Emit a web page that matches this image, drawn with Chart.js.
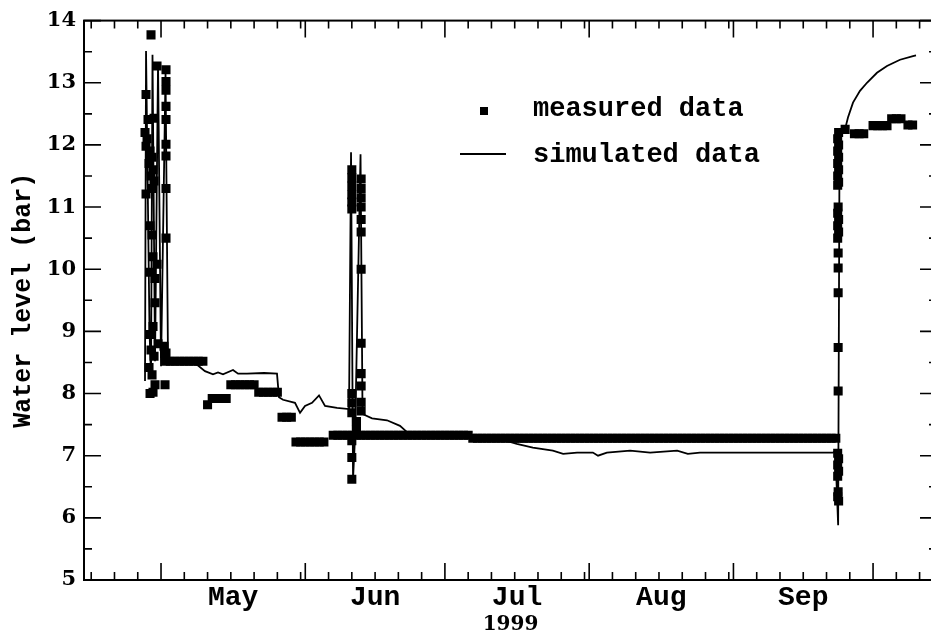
<!DOCTYPE html>
<html>
<head>
<meta charset="utf-8">
<title>Water level 1999</title>
<script src="https://cdn.jsdelivr.net/npm/chart.js@4.4.1/dist/chart.umd.min.js"></script>
<style>
  html, body { margin: 0; padding: 0; background: #fff; overflow: hidden; }
  #wrap { position: absolute; left: 0; top: 0; width: 945px; height: 640px; }
</style>
</head>
<body>
<div id="wrap"><canvas id="grafico"></canvas></div>
<script>
// x = day of year 1999 (1 = 1 Jan), y = water level in bar
const monthStart = [121, 152, 182, 213, 244, 274];
const monthMid = [136.5, 167, 197.5, 228.5, 259];
const monthLabels = ['May', 'Jun', 'Jul', 'Aug', 'Sep'];
const minorDays = [106, 111, 116, 126, 131, 136, 141, 146, 151, 157, 162, 167, 172, 177,
  187, 192, 197, 202, 207, 212, 218, 223, 228, 233, 238, 243, 249, 254, 259, 264, 269, 279, 284];
const levelTicks = [5, 6, 7, 8, 9, 10, 11, 12, 13, 14];
const levelMinor = [5.5, 6.5, 7.5, 8.5, 9.5, 10.5, 11.5, 12.5, 13.5];

const measDay = [
  // end of april test
  118.85, 120.14, 117.78, 118.21, 119.5, 117.56, 118.0, 117.78, 118.64, 119.07, 118.42,
  119.28, 118.85, 119.5, 117.78, 119.07, 118.64, 119.07, 119.28, 120.14, 118.64, 119.71,
  119.71, 119.28, 118.64, 120.36, 118.85, 119.5, 118.42, 119.07, 119.71, 118.64, 119.28,
  122.07, 122.07, 122.07, 122.07, 122.07, 122.07, 122.07, 122.07, 122.07, 121.64, 122.07, 121.86,
  // may - june readings
  122, 123, 124, 125, 126, 127, 128, 129, 130, 131, 132, 133, 134, 135,
  136, 137, 138, 139, 140, 141, 142, 143, 144, 145, 146, 147, 148, 149,
  150, 151, 152, 153, 154, 155, 156,
  158, 159, 160, 161, 162, 163, 164, 165, 166, 167, 168, 169, 170, 171, 172,
  173, 174, 175, 176, 177, 178, 179, 180, 181, 182, 183, 184, 185, 186, 187,
  // july - september readings
  188, 189, 190, 191, 192, 193, 194, 195, 196, 197, 198, 199, 200, 201, 202, 203,
  204, 205, 206, 207, 208, 209, 210, 211, 212, 213, 214, 215, 216, 217, 218, 219,
  220, 221, 222, 223, 224, 225, 226, 227, 228, 229, 230, 231, 232, 233, 234, 235,
  236, 237, 238, 239, 240, 241, 242, 243, 244, 245, 246, 247, 248, 249, 250, 251,
  252, 253, 254, 255, 256, 257, 258, 259, 260, 261, 262, 263, 264, 265, 266,
  // june test
  162, 162, 162, 162, 162, 162, 162, 162, 162, 162, 162, 162,
  164, 164, 164, 164, 164, 164, 164, 164, 164, 164, 164, 164,
  163, 163,
  // september test
  266.6, 266.4, 266.6, 266.4, 266.6, 266.4, 266.6, 266.4, 266.6, 266.4, 266.5, 266.4,
  266.6, 266.4, 266.6, 266.4, 266.5, 266.5, 266.5, 266.5, 266.5, 266.4, 266.6, 266.4,
  266.6, 266.4, 266.5, 266.4, 266.6,
  268, 270, 271, 272, 274, 275, 276, 277, 278, 279, 280, 281.5, 282.5
];
const measLevel = [
  13.77, 13.27, 12.81, 12.41, 12.43, 12.2, 12.1, 11.98, 11.9, 11.8, 11.7,
  11.6, 11.5, 11.42, 11.21, 11.3, 10.7, 10.55, 10.2, 10.08, 9.95, 9.85,
  9.46, 9.08, 8.95, 8.8, 8.7, 8.6, 8.42, 8.3, 8.14, 8.0, 8.02,
  13.21, 13.02, 12.88, 12.62, 12.41, 12.01, 11.82, 11.3, 10.5, 8.76, 8.65, 8.14,
  8.52, 8.52, 8.52, 8.52, 8.52, 8.52, 8.52, 8.52, 8.52, 7.82, 7.92, 7.92, 7.92, 7.92,
  8.14, 8.14, 8.14, 8.14, 8.14, 8.14, 8.02, 8.02, 8.02, 8.02, 8.02, 7.62, 7.62, 7.62,
  7.22, 7.22, 7.22, 7.22, 7.22, 7.22, 7.22,
  7.33, 7.33, 7.33, 7.33, 7.33, 7.33, 7.33, 7.33, 7.33, 7.33, 7.33, 7.33, 7.33, 7.33, 7.33,
  7.33, 7.33, 7.33, 7.33, 7.33, 7.33, 7.33, 7.33, 7.33, 7.33, 7.33, 7.33, 7.33, 7.33, 7.33,
  7.28, 7.28, 7.28, 7.28, 7.28, 7.28, 7.28, 7.28, 7.28, 7.28, 7.28, 7.28, 7.28, 7.28, 7.28, 7.28,
  7.28, 7.28, 7.28, 7.28, 7.28, 7.28, 7.28, 7.28, 7.28, 7.28, 7.28, 7.28, 7.28, 7.28, 7.28, 7.28,
  7.28, 7.28, 7.28, 7.28, 7.28, 7.28, 7.28, 7.28, 7.28, 7.28, 7.28, 7.28, 7.28, 7.28, 7.28, 7.28,
  7.28, 7.28, 7.28, 7.28, 7.28, 7.28, 7.28, 7.28, 7.28, 7.28, 7.28, 7.28, 7.28, 7.28, 7.28, 7.28,
  7.28, 7.28, 7.28, 7.28, 7.28, 7.28, 7.28, 7.28, 7.28, 7.28, 7.28, 7.28, 7.28, 7.28, 7.28,
  11.6, 11.47, 11.34, 11.2, 11.08, 10.97, 8.0, 7.85, 7.69, 7.24, 6.97, 6.62,
  11.45, 11.3, 11.15, 11.0, 10.8, 10.6, 10.0, 8.81, 8.32, 8.12, 7.86, 7.72,
  7.55, 7.42,
  12.2, 12.1, 12.0, 11.9, 11.8, 11.7, 11.6, 11.5, 11.4, 11.35, 11.0, 10.9,
  10.8, 10.7, 10.6, 10.5, 10.26, 10.02, 9.62, 8.74, 8.04, 7.04, 6.95, 6.85,
  6.75, 6.67, 6.42, 6.34, 6.27,
  12.25, 12.18, 12.18, 12.18, 12.31, 12.31, 12.31, 12.31, 12.42, 12.42, 12.42, 12.32, 12.32
];

const simDay = [
  117.56, 117.78, 118.53, 118.85, 119.17, 119.71, 120.36, 121.0, 121.97, 122.5,
  124.0, 127.23, 128.95, 130.45, 132.17, 133.25, 134.32, 136.47, 137.55, 139.48,
  143.13, 145.92, 146.35, 147.21, 149.79, 150.87, 151.94, 153.45, 154.95, 156.24,
  158.82, 161.4, 161.83, 162.26, 162.69, 163.87, 164.3, 166.34, 169.56, 172.35,
  173.86, 174.93, 183.0, 193.84, 197.45, 200.9, 205.2, 207.4, 210.4, 213.8,
  214.9, 216.8, 221.8, 226.1, 231.9, 234.2, 236.8, 251.2, 265.4, 265.9,
  266.5, 266.8, 267.3, 267.97, 268.61, 269.69, 271.19, 272.69, 274.84, 276.99,
  279.79, 282.58, 283.23
];
const simLevel = [
  8.2, 13.51, 9.0, 8.28, 13.45, 8.52, 13.32, 8.44, 13.16, 8.57,
  8.55, 8.52, 8.45, 8.36, 8.31, 8.34, 8.31, 8.38, 8.32, 8.32,
  8.33, 8.32, 7.94, 7.9, 7.85, 7.69, 7.8, 7.85, 7.97, 7.8,
  7.77, 7.75, 11.88, 6.62, 7.3, 11.85, 7.67, 7.6, 7.57, 7.48,
  7.38, 7.33, 7.32, 7.27, 7.19, 7.13, 7.08, 7.03, 7.05, 7.05,
  7.0, 7.05, 7.08, 7.05, 7.08, 7.03, 7.05, 7.05, 7.05, 7.07,
  5.88, 12.1, 12.2, 12.25, 12.44, 12.68, 12.87, 13.0, 13.16, 13.27,
  13.37, 13.43, 13.44
];

const measured = measDay.map((d, i) => ({x: d, y: measLevel[i]}));
const simulated = simDay.map((d, i) => ({x: d, y: simLevel[i]}));

// ticks pointing into the plot on all four sides, plus the frame
const insideTicks = {
  id: 'insideTicks',
  afterDatasetsDraw(chart) {
    const {ctx, chartArea: a, scales: {x, y}} = chart;
    ctx.save();
    ctx.strokeStyle = '#000';
    ctx.lineWidth = 1.6;
    ctx.beginPath();
    const tickX = (d, len) => {
      const px = x.getPixelForValue(d);
      ctx.moveTo(px, a.bottom); ctx.lineTo(px, a.bottom - len);
      ctx.moveTo(px, a.top); ctx.lineTo(px, a.top + len);
    };
    const tickY = (v, len) => {
      const py = y.getPixelForValue(v);
      ctx.moveTo(a.left, py); ctx.lineTo(a.left + len, py);
      ctx.moveTo(a.right, py); ctx.lineTo(a.right - len, py);
    };
    monthStart.forEach(d => tickX(d, 17));
    minorDays.forEach(d => tickX(d, 8));
    levelTicks.forEach(v => tickY(v, 17));
    levelMinor.forEach(v => tickY(v, 8));
    ctx.stroke();
    ctx.lineWidth = 2;
    ctx.strokeRect(a.left, a.top, a.right - a.left, a.bottom - a.top);
    ctx.restore();
  }
};

// legend sits inside the plot, upper middle
const legendInside = {
  id: 'legendInside',
  afterDraw(chart) {
    const ctx = chart.ctx;
    const sets = chart.data.datasets;
    ctx.save();
    ctx.fillStyle = '#000';
    ctx.strokeStyle = '#000';
    ctx.fillRect(480, 107, 8, 8);
    ctx.lineWidth = 1.8;
    ctx.beginPath();
    ctx.moveTo(460, 154);
    ctx.lineTo(506, 154);
    ctx.stroke();
    ctx.font = 'bold 27px "Liberation Mono"';
    ctx.textBaseline = 'alphabetic';
    ctx.fillText(sets[0].label, 533, 116);
    ctx.fillText(sets[1].label, 533, 162);
    ctx.restore();
  }
};

new Chart(document.getElementById('grafico'), {
  type: 'scatter',
  data: {
    datasets: [{
      label: 'measured data',
      data: measured,
      pointStyle: 'rect',
      pointRadius: 6.4,
      pointHoverRadius: 6.4,
      backgroundColor: '#000',
      borderColor: '#000',
      borderWidth: 0
    }, {
      label: 'simulated data',
      type: 'line',
      data: simulated,
      borderColor: '#000',
      borderWidth: 1.8,
      pointRadius: 0,
      tension: 0,
      fill: false
    }]
  },
  options: {
    responsive: true,
    maintainAspectRatio: false,
    animation: false,
    layout: { padding: { top: 17, right: 8, left: 0, bottom: 0 } },
    plugins: {
      legend: { display: false },
      tooltip: { enabled: false }
    },
    scales: {
      x: {
        type: 'linear',
        min: 104.45,
        max: 287.74,
        grid: { display: false, drawTicks: false },
        border: { display: false },
        afterBuildTicks: scale => {
          scale.ticks = monthMid.map(v => ({value: v}));
        },
        afterFit: scale => { scale.height = 60; },
        ticks: {
          autoSkip: false,
          maxRotation: 0,
          padding: 1,
          color: '#000',
          font: { family: '"Liberation Mono"', size: 28, weight: 'bold' },
          callback: (value, i) => monthLabels[i]
        },
        title: {
          display: true,
          text: '1999',
          color: '#000',
          font: { family: '"DejaVu Serif"', size: 20, weight: 'bold' },
          padding: { top: 0, bottom: 3 }
        }
      },
      y: {
        min: 5,
        max: 14,
        grid: { display: false, drawTicks: false },
        border: { display: false },
        afterFit: scale => { scale.width = 84; },
        ticks: {
          stepSize: 1,
          padding: 8,
          color: '#000',
          font: { family: '"DejaVu Serif"', size: 21, weight: 'bold' }
        },
        title: {
          display: true,
          text: 'Water level (bar)',
          color: '#000',
          font: { family: '"Liberation Mono"', size: 25, weight: 'bold' },
          padding: { top: 9, bottom: 0 }
        }
      }
    }
  },
  plugins: [insideTicks, legendInside]
});
</script>
</body>
</html>
